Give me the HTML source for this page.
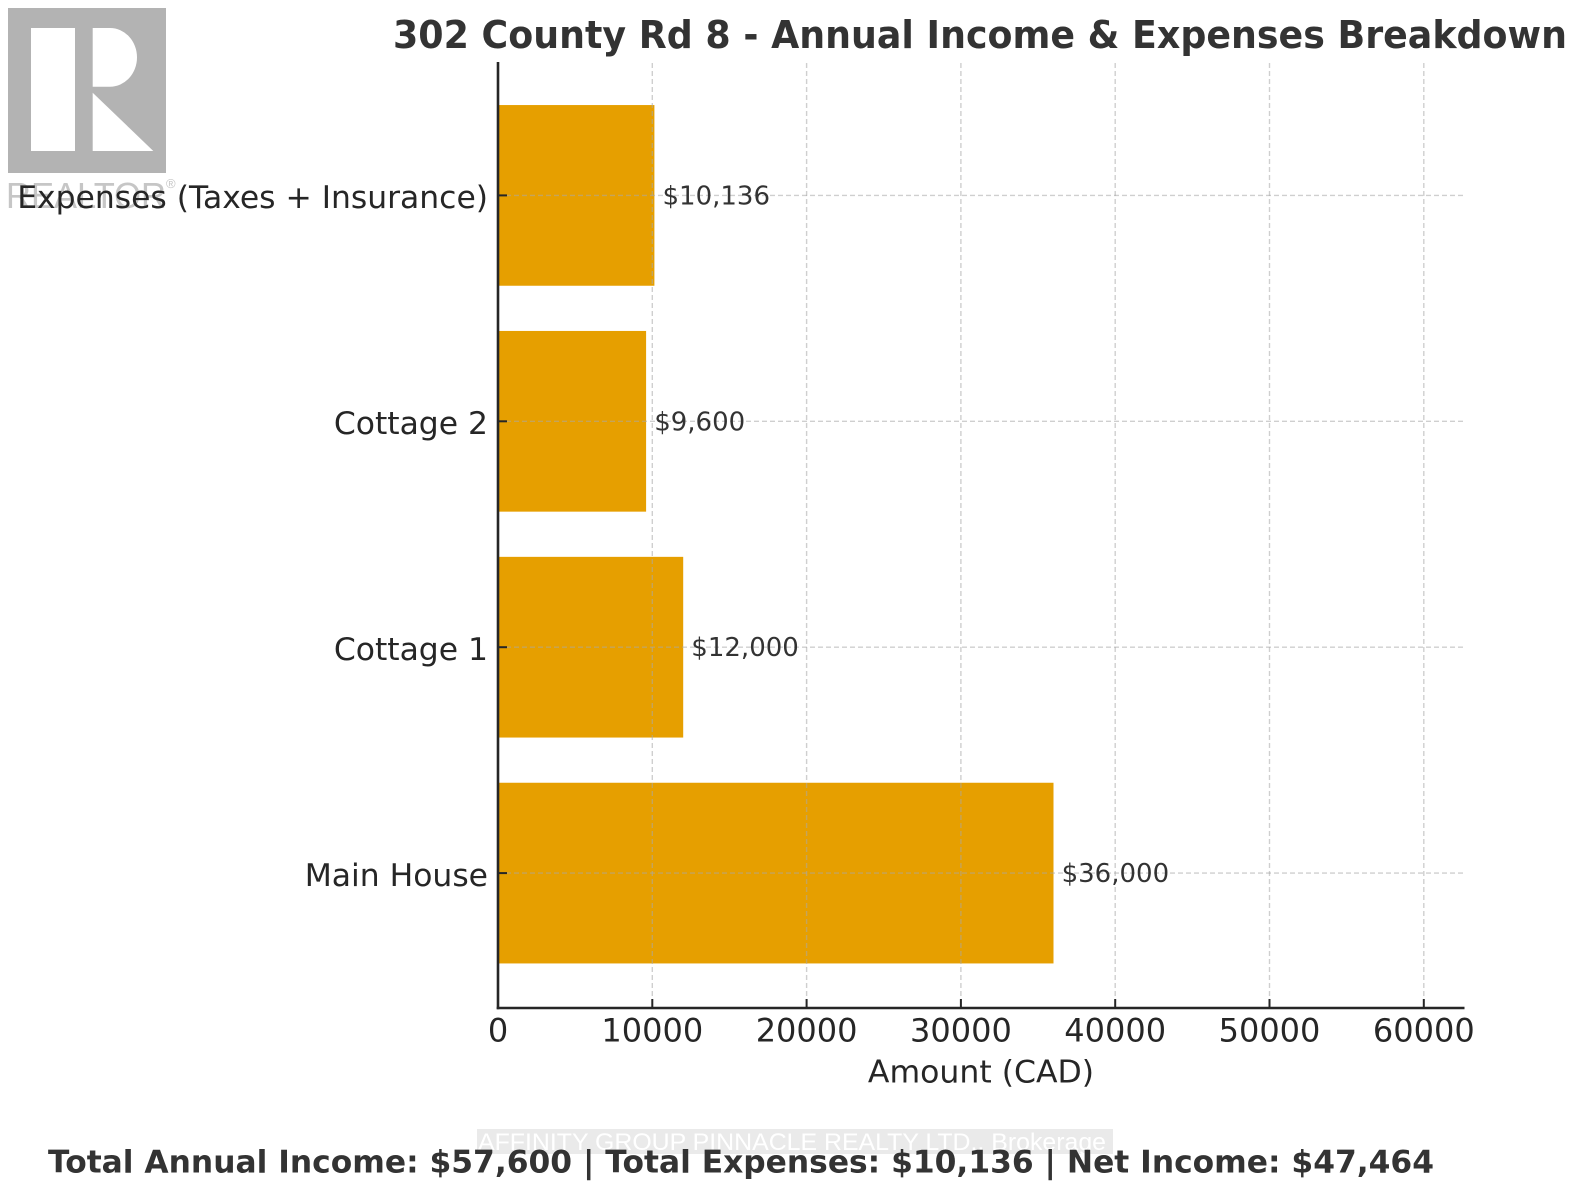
<!DOCTYPE html>
<html>
<head>
<meta charset="utf-8">
<style>
  html,body{margin:0;padding:0;background:#fff;}
  svg{display:block;}
  .t{font-family:"DejaVu Sans","Liberation Sans",sans-serif;}
</style>
</head>
<body>
<svg width="1588" height="1200" viewBox="0 0 1588 1200" xmlns="http://www.w3.org/2000/svg">
  <rect x="0" y="0" width="1588" height="1200" fill="#ffffff"/>

  <!-- REALTOR logo watermark -->
  <rect x="8" y="8" width="158" height="165" fill="#b3b3b3"/>
  <rect x="31" y="28" width="44" height="123" fill="#ffffff"/>
  <path d="M92.7,28 H110 A27,29.35 0 0 1 110,86.7 H92.7 Z" fill="#ffffff"/>
  <path d="M92.7,92.7 L92.7,151 L153.3,151 Z" fill="#ffffff"/>
  <text x="6" y="208" font-family="Liberation Sans, sans-serif" font-size="36" fill="#c6c6c6" textLength="160" lengthAdjust="spacingAndGlyphs">REALTOR</text>
  <text x="166" y="188" font-family="Liberation Sans, sans-serif" font-size="13" fill="#c6c6c6">®</text>

  <!-- Title -->
  <text class="t" x="980" y="48" text-anchor="middle" font-size="38" font-weight="bold" fill="#333333" textLength="1174" lengthAdjust="spacingAndGlyphs">302 County Rd 8 - Annual Income &amp; Expenses Breakdown</text>

  <!-- Bars -->
  <rect x="498" y="105.05" width="156.4" height="180.7" fill="#E69F00"/>
  <rect x="498" y="330.95" width="148.1" height="180.7" fill="#E69F00"/>
  <rect x="498" y="556.85" width="185.2" height="180.7" fill="#E69F00"/>
  <rect x="498" y="782.75" width="555.5" height="180.7" fill="#E69F00"/>

  <!-- Grid -->
  <g stroke="#a8a8a8" stroke-opacity="0.55" stroke-width="1.4" stroke-dasharray="5 3" fill="none">
    <line x1="652.3" y1="63" x2="652.3" y2="1008"/>
    <line x1="806.6" y1="63" x2="806.6" y2="1008"/>
    <line x1="960.9" y1="63" x2="960.9" y2="1008"/>
    <line x1="1115.2" y1="63" x2="1115.2" y2="1008"/>
    <line x1="1269.5" y1="63" x2="1269.5" y2="1008"/>
    <line x1="1423.8" y1="63" x2="1423.8" y2="1008"/>
    <line x1="498" y1="195.4" x2="1464" y2="195.4"/>
    <line x1="498" y1="421.3" x2="1464" y2="421.3"/>
    <line x1="498" y1="647.2" x2="1464" y2="647.2"/>
    <line x1="498" y1="873.1" x2="1464" y2="873.1"/>
  </g>

  <!-- Spines -->
  <g stroke="#262626" stroke-width="2.6" fill="none">
    <line x1="498" y1="62" x2="498" y2="1009.3"/>
    <line x1="496.7" y1="1008" x2="1464.5" y2="1008"/>
  </g>
  <!-- Ticks (inward) -->
  <g stroke="#262626" stroke-width="2" fill="none">
    <line x1="652.3" y1="1008" x2="652.3" y2="999"/>
    <line x1="806.6" y1="1008" x2="806.6" y2="999"/>
    <line x1="960.9" y1="1008" x2="960.9" y2="999"/>
    <line x1="1115.2" y1="1008" x2="1115.2" y2="999"/>
    <line x1="1269.5" y1="1008" x2="1269.5" y2="999"/>
    <line x1="1423.8" y1="1008" x2="1423.8" y2="999"/>
    <line x1="498" y1="195.4" x2="507" y2="195.4"/>
    <line x1="498" y1="421.3" x2="507" y2="421.3"/>
    <line x1="498" y1="647.2" x2="507" y2="647.2"/>
    <line x1="498" y1="873.1" x2="507" y2="873.1"/>
  </g>

  <!-- Y tick labels -->
  <g class="t" font-size="31.4" fill="#262626" text-anchor="end">
    <text x="488" y="208">Expenses (Taxes + Insurance)</text>
    <text x="488" y="434">Cottage 2</text>
    <text x="488" y="660">Cottage 1</text>
    <text x="488" y="886">Main House</text>
  </g>

  <!-- X tick labels -->
  <g class="t" font-size="32" fill="#262626" text-anchor="middle">
    <text x="498" y="1041.7">0</text>
    <text x="652.3" y="1041.7">10000</text>
    <text x="806.6" y="1041.7">20000</text>
    <text x="960.9" y="1041.7">30000</text>
    <text x="1115.2" y="1041.7">40000</text>
    <text x="1269.5" y="1041.7">50000</text>
    <text x="1423.8" y="1041.7">60000</text>
  </g>
  <text class="t" x="981" y="1082.3" font-size="31.5" fill="#262626" text-anchor="middle">Amount (CAD)</text>

  <!-- Value labels -->
  <g class="t" font-size="26" fill="#333333">
    <text x="662.5" y="204.4">$10,136</text>
    <text x="654.2" y="430.3">$9,600</text>
    <text x="691.3" y="656.2">$12,000</text>
    <text x="1061.6" y="882.1">$36,000</text>
  </g>

  <!-- Brokerage watermark -->
  <rect x="477" y="1129" width="636" height="25" fill="#d9d9d9" fill-opacity="0.55"/>
  <text x="478" y="1150" font-family="Liberation Sans, sans-serif" font-size="24" fill="#ffffff" textLength="628" lengthAdjust="spacingAndGlyphs">AFFINITY GROUP PINNACLE REALTY LTD., Brokerage</text>

  <!-- Summary -->
  <text class="t" x="48" y="1172.7" font-size="31" font-weight="bold" fill="#333333" textLength="1386" lengthAdjust="spacingAndGlyphs">Total Annual Income: $57,600 | Total Expenses: $10,136 | Net Income: $47,464</text>
</svg>
</body>
</html>
